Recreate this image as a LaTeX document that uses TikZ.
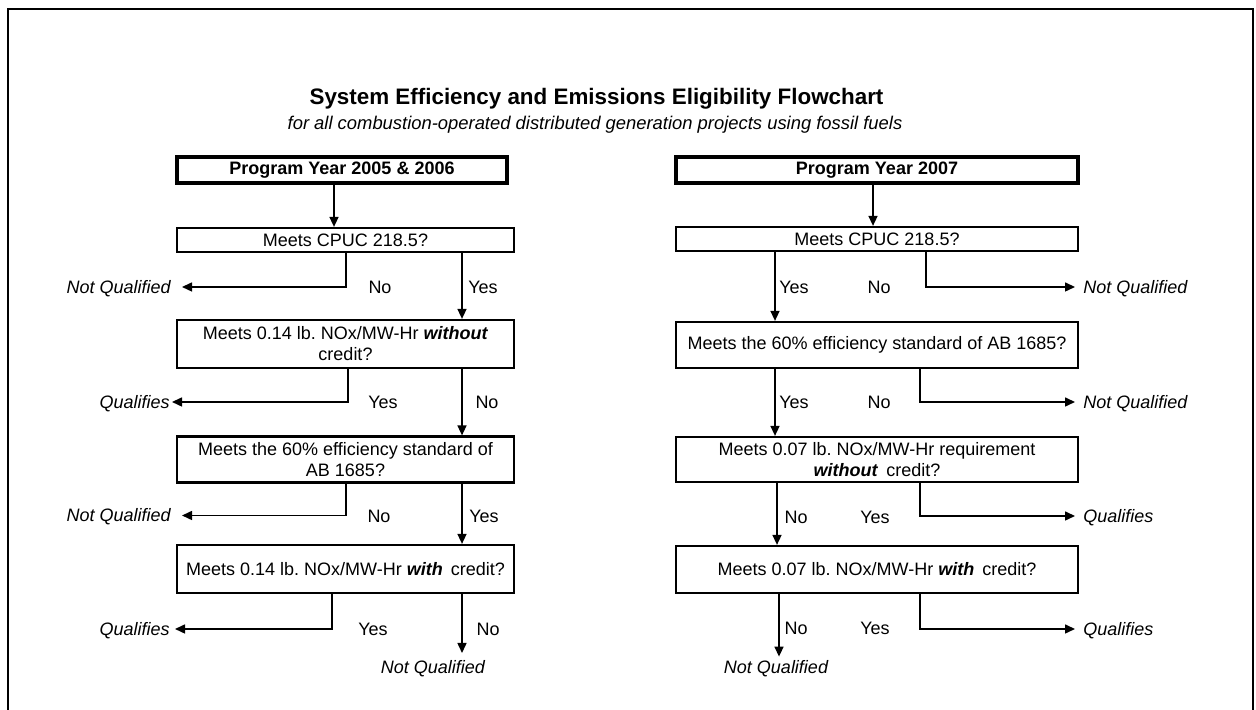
\documentclass[tikz,border=0pt]{standalone}
\usepackage{fontspec}
\setmainfont{Liberation Sans}
\usetikzlibrary{arrows.meta}

\begin{document}
\begin{tikzpicture}[x=1pt, y=1pt,
    box/.style={draw, line width=1.1pt, inner sep=1pt, align=center, font=\fontsize{9}{10.5}\selectfont, minimum height=24pt},
    lbox/.style={box, minimum width=168.5pt},
    rbox/.style={box, minimum width=201pt},
    yearbox/.style={draw, line width=1.65pt, minimum height=13pt, inner sep=0pt, font=\fontsize{9}{10.5}\selectfont\bfseries},
    arrow/.style={-{Triangle[length=5pt, width=4.5pt]}, line width=0.75pt},
    lbl/.style={font=\fontsize{9}{10.5}\selectfont, text height=8.4pt, text depth=2pt, inner sep=0pt},
    result/.style={lbl, font=\fontsize{9}{10.5}\selectfont\itshape}
  ]
    \useasboundingbox (0,0) rectangle (628,355);
    \draw[line width=1pt] (4,-5) -- (4,350.5) -- (626.5,350.5) -- (626.5,-5);

    \node[font=\fontsize{11.2}{13}\selectfont\bfseries, anchor=base] (title) at (298.25, 302.75) {System Efficiency and Emissions Eligibility Flowchart};
    \node[font=\fontsize{9.2}{11}\selectfont\itshape, anchor=base] (subtitle) at (297.5, 290) {for all combustion-operated distributed generation projects using fossil fuels};

    \node[yearbox, minimum width=165pt] (lhead) at (171, 270) {Program Year 2005 \& 2006};
    \node[lbox, minimum height=12pt] (lq1) at (172.75, 235) {Meets CPUC 218.5?};
    \node[lbox] (lq2) at (172.75, 183) {Meets 0.14 lb.\ NOx/MW-Hr \textbf{\textit{without}}\\credit?};
    \node[lbox, minimum height=23pt] (lq3) at (172.75, 125.25) {Meets the 60\% efficiency standard of\\AB 1685?};
    \node[lbox] (lq4) at (172.75, 70.5) {Meets 0.14 lb.\ NOx/MW-Hr \textbf{\textit{with}}\, credit?};

    \node[yearbox, minimum width=201pt] (rhead) at (438.5, 270) {Program Year 2007};
    \node[rbox, minimum height=12pt] (rq1) at (438.5, 235.5) {Meets CPUC 218.5?};
    \node[rbox, minimum height=23pt] (rq2) at (438.5, 182.5) {Meets the 60\% efficiency standard of AB 1685?};
    \node[rbox, minimum height=22.5pt] (rq3) at (438.5, 125.25) {Meets 0.07 lb.\ NOx/MW-Hr requirement\\\textbf{\textit{without}}\, credit?};
    \node[rbox, minimum height=23.5pt] (rq4) at (438.5, 70.25) {Meets 0.07 lb.\ NOx/MW-Hr \textbf{\textit{with}}\, credit?};

    \node[lbl] (lno1) at (190, 211.5) {No};
    \node[lbl] (lyes1) at (241.5, 211.5) {Yes};
    \node[lbl] (lyes2) at (191.5, 154) {Yes};
    \node[lbl] (lno2) at (243.5, 154) {No};
    \node[lbl] (lno3) at (189.5, 97) {No};
    \node[lbl] (lyes3) at (242, 97) {Yes};
    \node[lbl] (lyes4) at (186.5, 40.5) {Yes};
    \node[lbl] (lno4) at (244, 40.5) {No};

    \node[lbl] (ryes1) at (397, 211.5) {Yes};
    \node[lbl] (rno1) at (439.5, 211.5) {No};
    \node[lbl] (ryes2) at (397, 154) {Yes};
    \node[lbl] (rno2) at (439.5, 154) {No};
    \node[lbl] (rno3) at (398, 96.5) {No};
    \node[lbl] (ryes3) at (437.5, 96.5) {Yes};
    \node[lbl] (rno4) at (398, 41) {No};
    \node[lbl] (ryes4) at (437.5, 41) {Yes};

    \node[result, anchor=east, inner xsep=5.5pt] (lnq1) at (91, 211.5) {Not Qualified};
    \node[result, anchor=east, inner xsep=1pt] (lok2) at (86, 154) {Qualifies};
    \node[result, anchor=east, inner xsep=5.5pt] (lnq3) at (91, 97.25) {Not Qualified};
    \node[result, anchor=east, inner xsep=2.5pt] (lok4) at (87.5, 40.5) {Qualifies};
    \node[result, anchor=north, inner ysep=1.8pt] (lnq4) at (216.5, 28.5) {Not Qualified};

    \node[result, anchor=west, inner xsep=4pt] (rnq1) at (537.5, 211.5) {Not Qualified};
    \node[result, anchor=west, inner xsep=4pt] (rnq2) at (537.5, 154) {Not Qualified};
    \node[result, anchor=west, inner xsep=4pt] (rok3) at (537.5, 97) {Qualifies};
    \node[result, anchor=west, inner xsep=4pt] (rok4) at (537.5, 40.5) {Qualifies};
    \node[result, anchor=north] (rnq4) at (388, 26.7) {Not Qualified};

    \draw[arrow] ([xshift=-4pt]lhead.south) -- ([xshift=-4pt]lhead.south |- lq1.north);
    \draw[arrow] ([xshift=0.25pt]lq1.south) |- (lnq1.east);
    \draw[arrow] ([xshift=58.25pt]lq1.south) -- ([xshift=58.25pt]lq2.north);
    \draw[arrow] ([xshift=1.25pt]lq2.south) |- (lok2.east);
    \draw[arrow] ([xshift=58.25pt]lq2.south) -- ([xshift=58.25pt]lq3.north);
    \draw[arrow] ([xshift=0.25pt]lq3.south) |- (lnq3.east);
    \draw[arrow] ([xshift=58.25pt]lq3.south) -- ([xshift=58.25pt]lq4.north);
    \draw[arrow] ([xshift=-6.75pt]lq4.south) |- (lok4.east);
    \draw[arrow] ([xshift=58.25pt]lq4.south) -- ([xshift=58.25pt]lq4.south |- lnq4.north);

    \draw[arrow] ([xshift=-2pt]rhead.south) -- ([xshift=-2pt]rhead.south |- rq1.north);
    \draw[arrow] ([xshift=-51pt]rq1.south) -- ([xshift=-51pt]rq2.north);
    \draw[arrow] ([xshift=24.5pt]rq1.south) |- (rnq1.west);
    \draw[arrow] ([xshift=-51pt]rq2.south) -- ([xshift=-51pt]rq3.north);
    \draw[arrow] ([xshift=21.5pt]rq2.south) |- (rnq2.west);
    \draw[arrow] ([xshift=-50pt]rq3.south) -- ([xshift=-50pt]rq4.north);
    \draw[arrow] ([xshift=21.5pt]rq3.south) |- (rok3.west);
    \draw[arrow] ([xshift=-49pt]rq4.south) -- ([xshift=-49pt]rq4.south |- rnq4.north);
    \draw[arrow] ([xshift=21.5pt]rq4.south) |- (rok4.west);
  \end{tikzpicture}
\end{document}
